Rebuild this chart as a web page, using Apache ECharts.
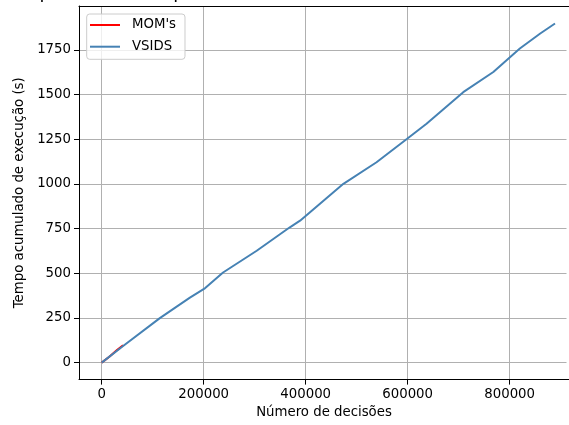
<!DOCTYPE html>
<html><head><meta charset="utf-8">
<script src="https://cdn.jsdelivr.net/npm/echarts@6/dist/echarts.min.js"></script>
<style>html,body{margin:0;padding:0;background:#fff}#c{width:569px;height:425px}</style>
</head><body><div id="c"></div>
<script>
// Data
const decisoesVSIDS = [0, 42000, 114000, 173000, 203000, 238000, 304000, 369000, 389000, 474000, 539000, 599000, 637000, 709000, 768000, 820000, 860000, 889000];
const tempoVSIDS = [0, 93, 249, 364, 417, 504, 626, 757, 794, 1000, 1121, 1252, 1336, 1513, 1626, 1757, 1841, 1897];
const decisoesMOM = [0, 15000, 30000, 42000];
const tempoMOM = [0, 33, 70, 97];
const xTicks = [0, 200000, 400000, 600000, 800000];
const yTicks = [0, 250, 500, 750, 1000, 1250, 1500, 1750];
const seriesNames = ["MOM's", "VSIDS"];
const titleText = "Tempo acumulado por decisão (MOM's e VSIDS sobre todas as instâncias)";

const FONT = 'DejaVu Sans';
const chart = echarts.init(document.getElementById('c'), null, {renderer: 'canvas'});
const pairs = (xs, ys) => xs.map((x, i) => [x, ys[i]]);
const XMIN = -44500, XMAX = 916400;

chart.setOption({
  animation: false,
  backgroundColor: '#fff',
  graphic: [{
    type: 'text', left: 3, top: -16, silent: true,
    style: {text: titleText, font: '18px "DejaVu Sans"', fill: '#000'}
  }, {
    // the reference is cropped before the right spine
    type: 'rect', left: 566.5, top: 7, silent: true, z: 100,
    shape: {width: 3, height: 372}, style: {fill: '#fff'}
  }],
  grid: {left: 79, top: 6, right: 0, bottom: 45.4, show: false, containLabel: false},
  legend: {
    data: seriesNames, orient: 'vertical', left: 86.7, top: 14,
    icon: 'rect', itemWidth: 30, itemHeight: 2, itemGap: 5.7,
    textStyle: {fontFamily: FONT, fontSize: 13.3, color: '#000', lineHeight: 16, padding: [0, 0, 0, 7]},
    backgroundColor: 'rgba(255,255,255,0.8)', borderColor: '#cccccc', borderWidth: 1, borderRadius: 3,
    padding: [3, 9, 4.6, 3.3]
  },
  xAxis: [{
    type: 'value', min: XMIN, max: XMAX, position: 'bottom',
    name: 'Número de decisões', nameLocation: 'middle', nameGap: 26,
    nameTextStyle: {fontFamily: FONT, fontSize: 13.3, color: '#000'},
    axisLine: {show: true, onZero: false, lineStyle: {color: '#000', width: 1}},
    axisTick: {show: true, inside: false, length: 5, lineStyle: {color: '#000', width: 1}, customValues: xTicks},
    axisLabel: {customValues: xTicks, formatter: v => String(v), fontFamily: FONT, fontSize: 13.3, color: '#000', margin: 8},
    splitLine: {show: true, lineStyle: {color: '#b0b0b0', width: 1}}
  }, {
    type: 'value', min: XMIN, max: XMAX, position: 'top',
    axisLine: {show: true, onZero: false, lineStyle: {color: '#000', width: 1}},
    axisTick: {show: false}, axisLabel: {show: false}, splitLine: {show: false}
  }],
  yAxis: {
    type: 'value', min: -95, max: 1995,
    name: 'Tempo acumulado de execução (s)', nameLocation: 'middle', nameGap: 51,
    nameTextStyle: {fontFamily: FONT, fontSize: 13.3, color: '#000'},
    axisLine: {show: true, onZero: false, lineStyle: {color: '#000', width: 1}},
    axisTick: {show: true, inside: false, length: 5, lineStyle: {color: '#000', width: 1}, customValues: yTicks},
    axisLabel: {customValues: yTicks, formatter: v => String(v), fontFamily: FONT, fontSize: 13.3, color: '#000', margin: 8},
    splitLine: {show: true, lineStyle: {color: '#b0b0b0', width: 1}}
  },
  series: [
    {type: 'line', name: seriesNames[0], xAxisIndex: 0, data: pairs(decisoesMOM, tempoMOM), showSymbol: false, symbol: 'none',
     lineStyle: {color: '#ff0000', width: 2}, itemStyle: {color: '#ff0000'}, z: 2},
    {type: 'line', name: seriesNames[1], xAxisIndex: 0, data: pairs(decisoesVSIDS, tempoVSIDS), showSymbol: false, symbol: 'none',
     lineStyle: {color: '#4682b4', width: 2}, itemStyle: {color: '#4682b4'}, z: 3}
  ]
});
</script></body></html>
